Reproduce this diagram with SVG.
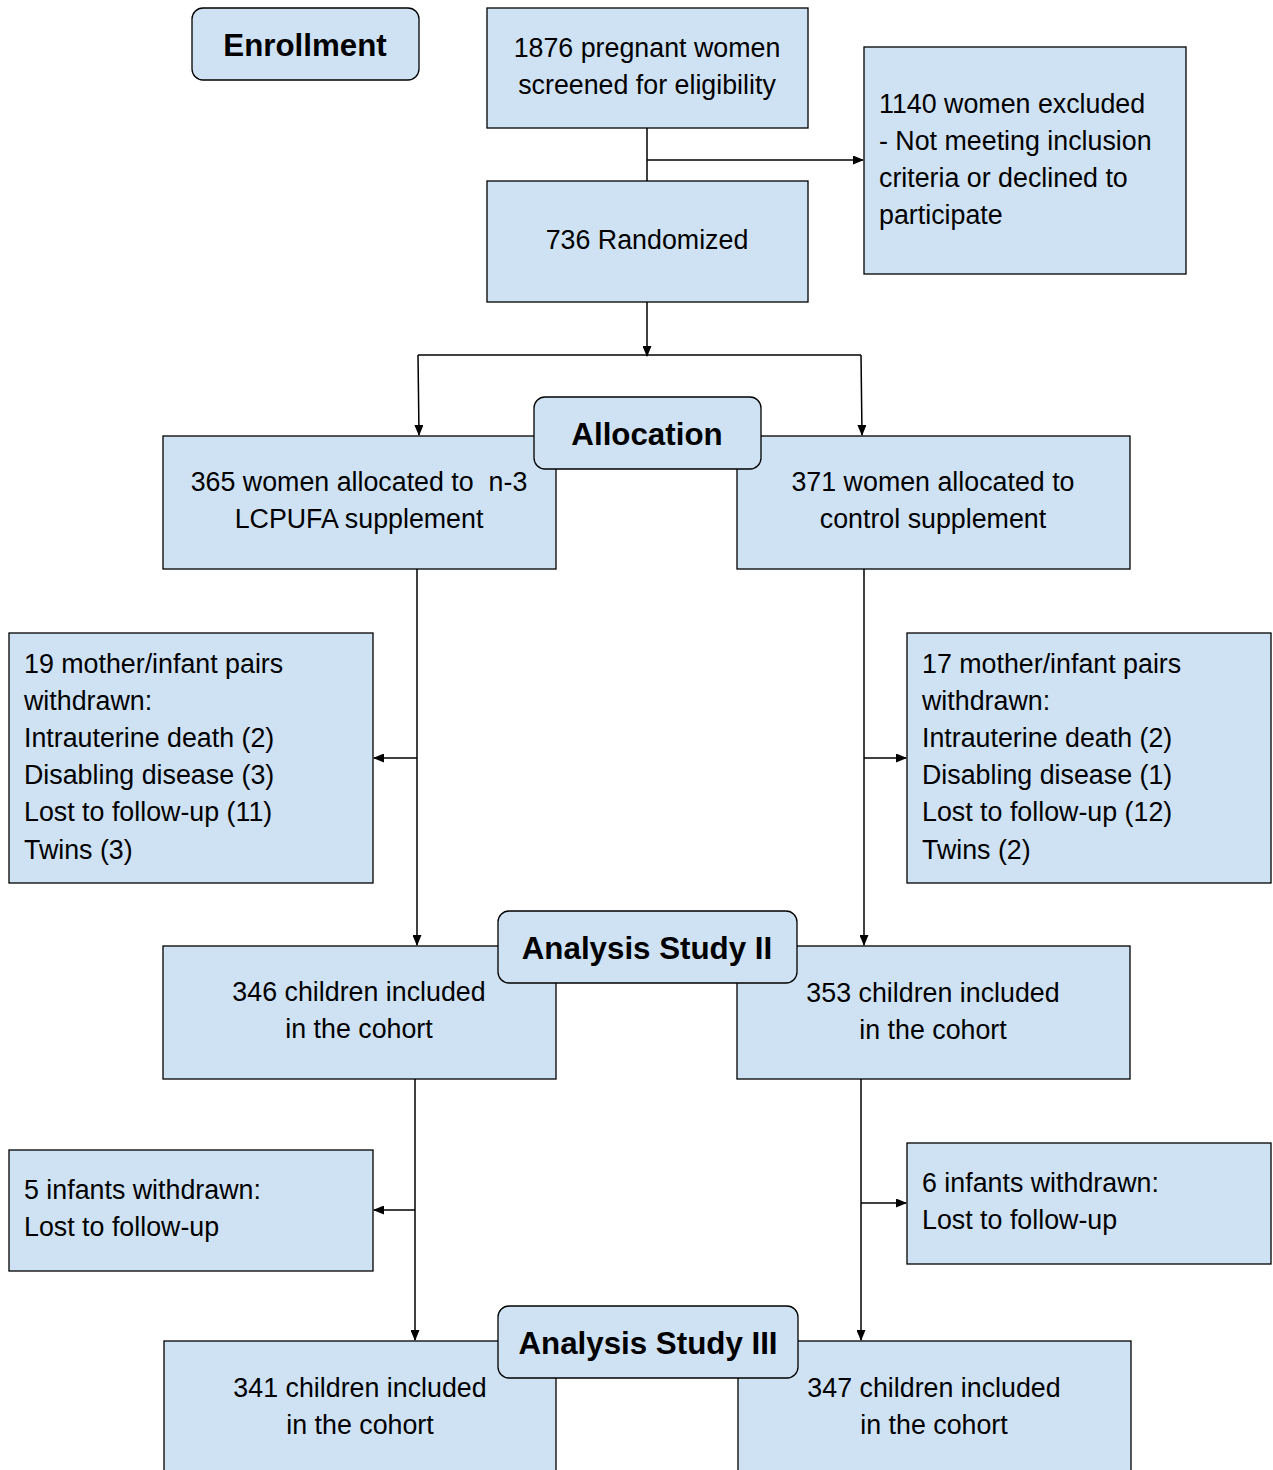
<svg xmlns="http://www.w3.org/2000/svg" width="1273" height="1470" viewBox="0 0 1273 1470">
<defs>
<marker id="ah" markerWidth="11" markerHeight="9" refX="10" refY="4.5" orient="auto" markerUnits="userSpaceOnUse">
<path d="M0,0 L11,4.5 L0,9 Z" fill="#000"/>
</marker>
<style>
.box{fill:#cfe2f3;stroke:#000;stroke-width:1.3}
.t{font-family:"Liberation Sans",Arial,sans-serif;font-size:26.8px;fill:#000}
.c{text-anchor:middle}
.h{font-family:"Liberation Sans",Arial,sans-serif;font-size:31.3px;font-weight:bold;text-anchor:middle;fill:#000}
.ln{fill:none;stroke:#000;stroke-width:1.5}
</style>
</defs>
<rect width="1273" height="1470" fill="#fff"/>

<g id="connectors">
<line class="ln" x1="647" y1="128" x2="647" y2="181"/>
<line class="ln" x1="647" y1="160" x2="863" y2="160" marker-end="url(#ah)"/>
<line class="ln" x1="647" y1="302" x2="647" y2="356" marker-end="url(#ah)"/>
<line class="ln" x1="418" y1="355" x2="861" y2="355"/>
<line class="ln" x1="418" y1="355" x2="419" y2="435" marker-end="url(#ah)"/>
<line class="ln" x1="861" y1="355" x2="862" y2="435" marker-end="url(#ah)"/>
<line class="ln" x1="417" y1="569" x2="417" y2="945" marker-end="url(#ah)"/>
<line class="ln" x1="417" y1="758" x2="374" y2="758" marker-end="url(#ah)"/>
<line class="ln" x1="864" y1="569" x2="864" y2="945" marker-end="url(#ah)"/>
<line class="ln" x1="864" y1="758" x2="906" y2="758" marker-end="url(#ah)"/>
<line class="ln" x1="415" y1="1079" x2="415" y2="1340" marker-end="url(#ah)"/>
<line class="ln" x1="415" y1="1210" x2="374" y2="1210" marker-end="url(#ah)"/>
<line class="ln" x1="861" y1="1079" x2="861" y2="1340" marker-end="url(#ah)"/>
<line class="ln" x1="861" y1="1203" x2="906" y2="1203" marker-end="url(#ah)"/>
</g>

<g id="enrollment">
<rect class="box" x="192" y="8" width="227" height="72" rx="11"/>
<text class="h" x="305" y="56">Enrollment</text>
</g>

<g id="screened">
<rect class="box" x="487" y="8" width="321" height="120"/>
<text class="t c" x="647" y="57">1876 pregnant women</text>
<text class="t c" x="647" y="94">screened for eligibility</text>
</g>

<g id="excluded">
<rect class="box" x="864" y="47" width="322" height="227"/>
<text class="t" x="879" y="113">1140 women excluded</text>
<text class="t" x="879" y="150">- Not meeting inclusion</text>
<text class="t" x="879" y="187">criteria or declined to</text>
<text class="t" x="879" y="224">participate</text>
</g>

<g id="randomized">
<rect class="box" x="487" y="181" width="321" height="121"/>
<text class="t c" x="647" y="249">736 Randomized</text>
</g>

<g id="alloc-n3">
<rect class="box" x="163" y="436" width="393" height="133"/>
<text class="t c" x="359" y="491" xml:space="preserve">365 women allocated to  n-3</text>
<text class="t c" x="359" y="528">LCPUFA supplement</text>
</g>

<g id="alloc-control">
<rect class="box" x="737" y="436" width="393" height="133"/>
<text class="t c" x="933" y="491">371 women allocated to</text>
<text class="t c" x="933" y="528">control supplement</text>
</g>

<g id="allocation">
<rect class="box" x="534" y="397" width="227" height="72" rx="11"/>
<text class="h" x="647" y="445">Allocation</text>
</g>

<g id="withdrawn-left">
<rect class="box" x="9" y="633" width="364" height="250"/>
<text class="t" x="24" y="673">19 mother/infant pairs</text>
<text class="t" x="24" y="710">withdrawn:</text>
<text class="t" x="24" y="747">Intrauterine death (2)</text>
<text class="t" x="24" y="784">Disabling disease (3)</text>
<text class="t" x="24" y="821">Lost to follow-up (11)</text>
<text class="t" x="24" y="859">Twins (3)</text>
</g>

<g id="withdrawn-right">
<rect class="box" x="907" y="633" width="364" height="250"/>
<text class="t" x="922" y="673">17 mother/infant pairs</text>
<text class="t" x="922" y="710">withdrawn:</text>
<text class="t" x="922" y="747">Intrauterine death (2)</text>
<text class="t" x="922" y="784">Disabling disease (1)</text>
<text class="t" x="922" y="821">Lost to follow-up (12)</text>
<text class="t" x="922" y="859">Twins (2)</text>
</g>

<g id="cohort2-left">
<rect class="box" x="163" y="946" width="393" height="133"/>
<text class="t c" x="359" y="1001">346 children included</text>
<text class="t c" x="359" y="1038">in the cohort</text>
</g>

<g id="cohort2-right">
<rect class="box" x="737" y="946" width="393" height="133"/>
<text class="t c" x="933" y="1002">353 children included</text>
<text class="t c" x="933" y="1039">in the cohort</text>
</g>

<g id="analysis2">
<rect class="box" x="498" y="911" width="299" height="72" rx="11"/>
<text class="h" x="647" y="959">Analysis Study II</text>
</g>

<g id="infants-left">
<rect class="box" x="9" y="1150" width="364" height="121"/>
<text class="t" x="24" y="1199">5 infants withdrawn:</text>
<text class="t" x="24" y="1236">Lost to follow-up</text>
</g>

<g id="infants-right">
<rect class="box" x="907" y="1143" width="364" height="121"/>
<text class="t" x="922" y="1192">6 infants withdrawn:</text>
<text class="t" x="922" y="1229">Lost to follow-up</text>
</g>

<g id="cohort3-left">
<rect class="box" x="164" y="1341" width="392" height="150"/>
<text class="t c" x="360" y="1397">341 children included</text>
<text class="t c" x="360" y="1434">in the cohort</text>
</g>

<g id="cohort3-right">
<rect class="box" x="738" y="1341" width="393" height="150"/>
<text class="t c" x="934" y="1397">347 children included</text>
<text class="t c" x="934" y="1434">in the cohort</text>
</g>

<g id="analysis3">
<rect class="box" x="498" y="1306" width="300" height="72" rx="11"/>
<text class="h" x="648" y="1354">Analysis Study III</text>
</g>
</svg>
